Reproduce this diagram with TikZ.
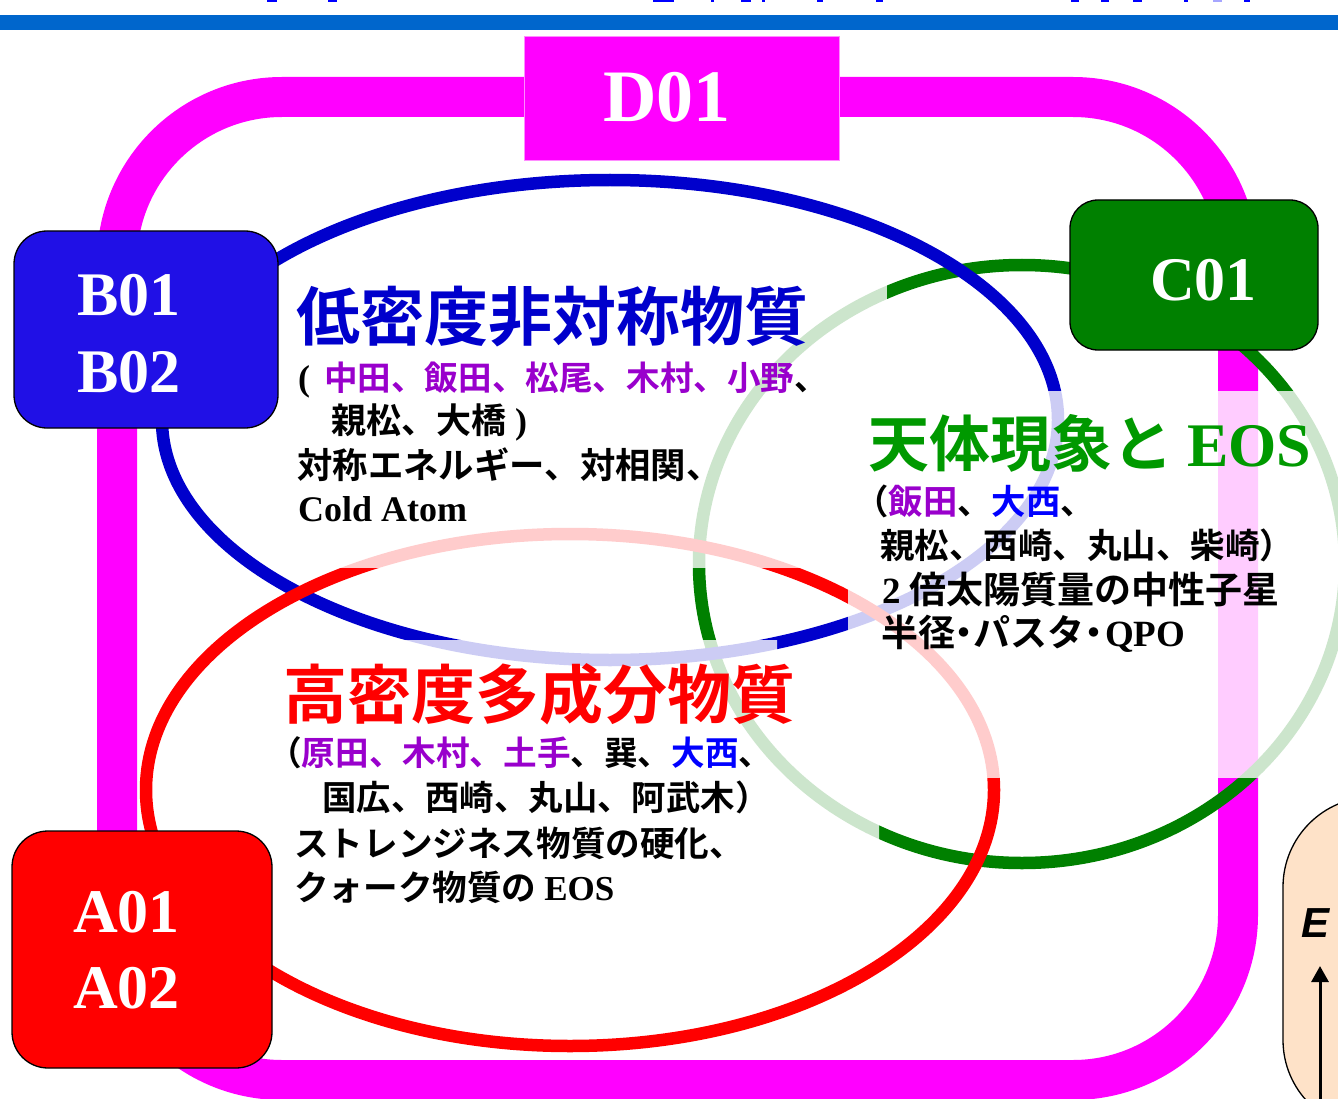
\documentclass[tikz,border=0pt]{standalone}
\usepackage{fontspec}
\usetikzlibrary{arrows.meta}
\newfontfamily\jp{Noto Sans CJK JP}[BoldFont={* Bold}]
\newfontfamily\tms{Liberation Serif}
\newfontfamily\arl{Liberation Sans}
\definecolor{mag}{RGB}{255,0,255}
\definecolor{topbar}{RGB}{0,102,204}
\definecolor{ebl}{RGB}{0,0,204}
\definecolor{ered}{RGB}{255,0,0}
\definecolor{egr}{RGB}{0,128,0}
\definecolor{pur}{RGB}{153,0,204}
\definecolor{nbl}{RGB}{0,0,255}
\definecolor{tgr}{RGB}{0,153,0}
\definecolor{bboxc}{RGB}{32,16,230}
\definecolor{peach}{RGB}{254,226,200}
\begin{document}
\begin{tikzpicture}[x=1pt,y=-1pt,
  tag/.style={draw=black,line width=1.3pt},
  tagtext/.style={text=white,font=\tms\bfseries\fontsize{62}{70}\selectfont,anchor=base west,inner sep=0pt},
  body/.style={anchor=base west,inner sep=0pt},
  veil/.style={fill=white,fill opacity=0.8,draw=none},
  ring/.style={line width=12.5pt},
  jb/.style={font=\jp\bfseries\fontsize{#1}{#1}\selectfont}]
\useasboundingbox (0,0) rectangle (1338,1099);
% top bar and fragments of the title above it
\fill[topbar] (0,15.5) rectangle (1338,30.5);
\foreach \a/\b in {267/277,328/337,653/674,711/714,741/751,762/765,817/823,876/883,1071/1079,1101/1109,1133/1142,1184/1188,1244/1250}
  \fill[nbl] (\a,0) rectangle (\b,2.5);
\fill[nbl!35] (1213,0) rectangle (1222,2.5);
% magenta frame
\draw[mag,line width=40pt,rounded corners=165pt] (117,97) rectangle (1238,1080);
% ellipses
\draw[ring,egr] (1022,564) ellipse [x radius=323,y radius=299];
\draw[ring,ebl] (610,420) ellipse [x radius=448,y radius=240];
\draw[ring,ered] (570,790) ellipse [x radius=424,y radius=256];
% translucent text-box backgrounds
\fill[veil] (290,262) rectangle (887,568);
\fill[veil] (848,391) rectangle (1338,778);
\fill[veil] (280,640) -- (777,640) -- (777,730) -- (879,730) -- (879,910) -- (280,910) -- cycle;
% group boxes
\node[fill=mag,draw={rgb,255:red,255;green,140;blue,255},line width=1pt,minimum width=315pt,minimum height=124pt,inner sep=0pt] (dbox) at (681.5,99) {};
\node[tagtext,font=\tms\bfseries\fontsize{74}{80}\selectfont] (dtxt) at (603,122) {D01};
\draw[tag,fill=bboxc,rounded corners=33pt] (14,231) rectangle (278,428);
\node[tagtext] (b1) at (77,315) {B01};
\node[tagtext] (b2) at (77,392) {B02};
\draw[tag,fill=egr,rounded corners=28pt] (1070,200) rectangle (1318,350);
\node[tagtext] (c1) at (1150,301) {C01};
\draw[tag,fill=ered,rounded corners=36pt] (12,831) rectangle (272,1068);
\node[tagtext] (a1) at (73,932) {A01};
\node[tagtext] (a2) at (73,1008) {A02};
% energy axis panel at the right edge
\draw[fill=peach,line width=1.3pt,rounded corners=90pt] (1283,1130) rectangle (1460,797);
\node[body,font=\arl\bfseries\itshape\fontsize{42}{44}\selectfont] (E) at (1301,937) {E};
\coordinate (arrbot) at (1320,1110);
\coordinate (arrtop) at (1320,966);
\draw[line width=3pt,-{Triangle[width=17pt,length=16pt]}] (arrbot) -- (arrtop);
% low density asymmetric matter
\node[body,jb=64,text=ebl] (bt) at (296,340) {低密度非対称物質};
\node[body,jb=33.6] (bl1) at (298,390) {{\tms\bfseries\fontsize{36}{36}\selectfont(}\kern14pt\textcolor{pur}{中田、飯田、松尾、木村、小野}、};
\node[body,jb=35] (bl2) at (331,433) {親松、大橋{\tms\bfseries\fontsize{36}{36}\selectfont\ )}};
\node[body,jb=35.4] (bl3) at (297,478) {対称エネルギー、対相関、};
\node[body,font=\tms\bfseries\fontsize{36}{36}\selectfont] (bl4) at (298,521) {Cold Atom};
% high density multi-component matter
\node[body,jb=64,text=ered] (rt) at (283,718) {高密度多成分物質};
\node[body,jb=33.6] (rl1) at (268,765) {（\textcolor{pur}{原田、木村、土手}、巽、\textcolor{nbl}{大西}、};
\node[body,jb=34.4] (rl2) at (322,810) {国広、西崎、丸山、阿武木）};
\node[body,jb=34.6] (rl3) at (294,856) {ストレンジネス物質の硬化、};
\node[body,jb=34.6] (rl4) at (294,900) {クォーク物質の {\tms\bfseries\fontsize{35}{35}\selectfont EOS}};
% astrophysical phenomena and EOS
\node[body,jb=61,text=tgr] (gt) at (868,466) {天体現象と {\tms\bfseries\fontsize{62}{62}\selectfont EOS}};
\node[body,jb=34.4] (gl1) at (854,514) {（\textcolor{pur}{飯田}、\textcolor{nbl}{大西}、};
\node[body,jb=34.5] (gl2) at (880,558) {親松、西崎、丸山、柴崎）};
\node[body,jb=37] (gl3) at (882,603) {{\tms\bfseries\fontsize{37}{37}\selectfont 2} 倍太陽質量の中性子星};
\node[body,jb=37] (gl4) at (881,646) {半径\kern-.25em・\kern-.25emパスタ\kern-.25em・\kern-.2em {\tms\bfseries\fontsize{37}{37}\selectfont QPO}};
\end{tikzpicture}
\end{document}
